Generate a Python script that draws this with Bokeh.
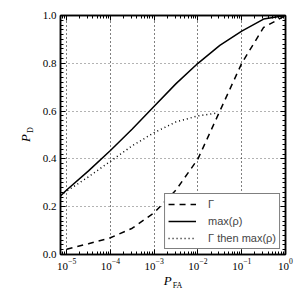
import math
from bokeh.plotting import figure
from bokeh.models import (Range1d, LinearAxis, LogAxis, Legend, LegendItem, FixedTicker,
                          LogTicker, CustomJSTickFormatter, LinearScale)
from bokeh.embed import file_html
from bokeh.resources import INLINE

# Data
x_gamma = [1e-5, 3.16e-5, 1e-4, 3.16e-4, 1e-3, 3.16e-3, 1e-2, 3.16e-2, 1e-1, 3.16e-1, 1.0]
y_gamma = [0.022, 0.045, 0.07, 0.11, 0.175, 0.27, 0.40, 0.60, 0.80, 0.95, 1.0]

x_max = [7.24e-6, 1e-5, 3.16e-5, 1e-4, 3.16e-4, 1e-3, 3.16e-3, 1e-2, 3.16e-2, 1e-1, 3.16e-1, 1.0]
y_max = [0.245, 0.27, 0.35, 0.435, 0.525, 0.62, 0.715, 0.80, 0.875, 0.935, 0.985, 1.0]

x_then = [7.24e-6, 1e-5, 3.16e-5, 1e-4, 3.16e-4, 1e-3, 3.16e-3, 1e-2, 2.8e-2]
y_then = [0.25, 0.265, 0.325, 0.39, 0.455, 0.51, 0.555, 0.58, 0.592]

x_lo, x_hi = 7.24e-6, 1.0
y_ticks = [0.0, 0.2, 0.4, 0.6, 0.8, 1.0]
labels = ["Γ", "max(ρ)", "Γ then max(ρ)"]
x_label_main, x_label_sub = "P", "FA"
y_label_main, y_label_sub = "P", "D"

serif = "Liberation Serif"
p = figure(width=296, height=296, x_axis_type="log",
           x_range=Range1d(x_lo, x_hi), y_range=Range1d(0, 1),
           output_backend="svg", toolbar_location=None,
           min_border_left=60, min_border_right=11, min_border_top=15, min_border_bottom=42)
p.background_fill_color = "white"
p.border_fill_color = "white"
p.outline_line_color = "black"
p.outline_line_width = 1.5
p.extra_x_ranges = {"lab": Range1d(0, 1)}
p.extra_x_scales = {"lab": LinearScale()}
p.extra_y_ranges = {"lab": Range1d(0, 1)}
p.extra_y_scales = {"lab": LinearScale()}

for ax in [p.xaxis[0], p.yaxis[0]]:
    ax.major_tick_in = 5
    ax.major_tick_out = 0
    ax.minor_tick_in = 3
    ax.minor_tick_out = 0
    ax.axis_line_color = "black"
    ax.axis_line_width = 1.5
    ax.major_label_text_font = serif
    ax.major_label_text_font_size = "11px"
    ax.major_label_text_color = "black"
    ax.major_label_standoff = 4
p.yaxis[0].ticker = FixedTicker(ticks=y_ticks, minor_ticks=[i / 50 for i in range(51)])
p.yaxis[0].formatter = CustomJSTickFormatter(code="return tick.toFixed(1)")
p.xaxis[0].ticker = LogTicker(num_minor_ticks=10)

top = LogAxis(ticker=LogTicker(num_minor_ticks=10), formatter=CustomJSTickFormatter(code="return ''"),
              major_tick_in=5, major_tick_out=0, minor_tick_in=3, minor_tick_out=0,
              axis_line_color="black", axis_line_width=1.5, major_label_standoff=0)
right = LinearAxis(ticker=FixedTicker(ticks=y_ticks, minor_ticks=[i / 50 for i in range(51)]),
                   formatter=CustomJSTickFormatter(code="return ''"),
                   major_tick_in=5, major_tick_out=0, minor_tick_in=3, minor_tick_out=0,
                   axis_line_color="black", axis_line_width=1.5, major_label_standoff=0)
p.add_layout(top, "above")
p.add_layout(right, "right")


def label_axis(text, pos, size, style, standoff, vertical, range_name):
    kw = dict(ticker=FixedTicker(ticks=[pos], minor_ticks=[]),
              formatter=CustomJSTickFormatter(code="return '%s'" % text),
              axis_line_color=None, major_tick_line_color=None, minor_tick_line_color=None,
              major_tick_in=0, major_tick_out=0, minor_tick_in=0, minor_tick_out=0,
              major_label_text_font=serif, major_label_text_font_size=size,
              major_label_text_font_style=style, major_label_text_color="black",
              major_label_standoff=standoff)
    if vertical:
        return LinearAxis(y_range_name=range_name, major_label_orientation="vertical", **kw)
    return LinearAxis(x_range_name=range_name, **kw)


# x label: P with subscript FA
p.add_layout(label_axis(x_label_main, 0.476, "13px", "italic", 0, False, "lab"), "below")
p.add_layout(label_axis(x_label_sub, 0.52, "8px", "normal", -10, False, "lab"), "below")
# y label: P with subscript D (subscript nearer the axis)
p.add_layout(label_axis(y_label_sub, 0.52, "8px", "normal", 4, True, "lab"), "left")
p.add_layout(label_axis(y_label_main, 0.487, "13px", "italic", -10, True, "lab"), "left")

p.xgrid.grid_line_color = "black"
p.xgrid.grid_line_dash = "1 3"
p.xgrid.grid_line_width = 1
p.ygrid.grid_line_color = "black"
p.ygrid.grid_line_dash = "1 3"
p.ygrid.grid_line_alpha = 0.6
p.ygrid.ticker = FixedTicker(ticks=y_ticks)

r1 = p.line(x_gamma, y_gamma, line_color="black", line_width=1.5, line_dash="6 5")
r2 = p.line(x_max, y_max, line_color="black", line_width=1.5)
r3 = p.line(x_then, y_then, line_color="black", line_width=1.5, line_dash="1 3")

legend = Legend(items=[LegendItem(label=labels[0], renderers=[r1]),
                       LegendItem(label=labels[1], renderers=[r2]),
                       LegendItem(label=labels[2], renderers=[r3])],
                location="bottom_right", border_line_color="black", border_line_width=1.2,
                label_text_font="Liberation Sans", label_text_font_size="11px",
                glyph_width=28, glyph_height=14, label_height=14, spacing=3,
                padding=3, margin=5, background_fill_alpha=1.0, label_standoff=12)
p.add_layout(legend)

open("out.html", "w").write(file_html(p, INLINE))
